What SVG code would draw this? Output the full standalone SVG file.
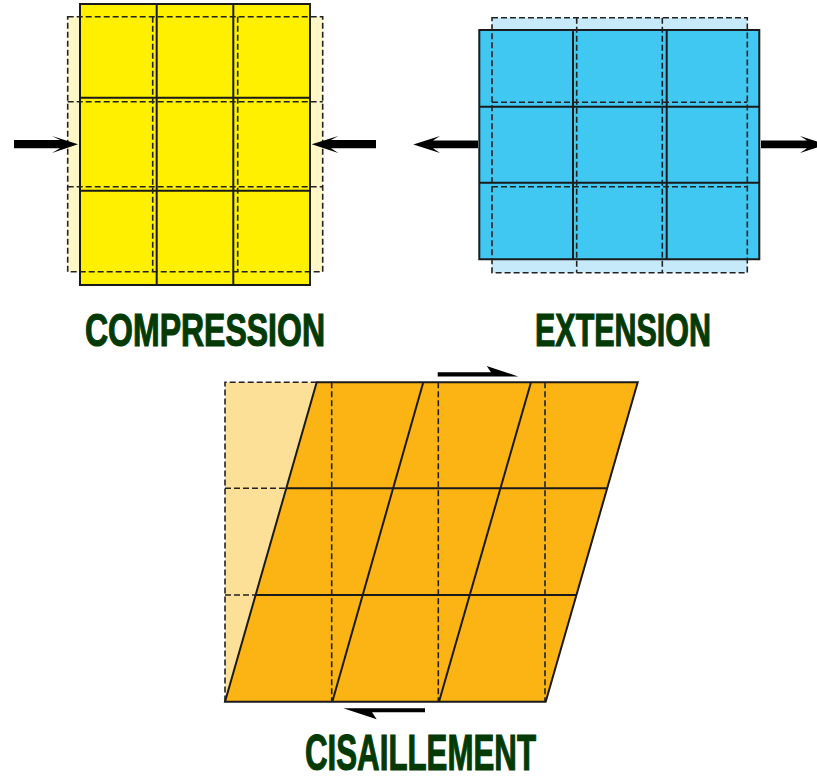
<svg xmlns="http://www.w3.org/2000/svg" width="817" height="781" viewBox="0 0 817 781">
<style>
.solid{fill:none;stroke:#1a1a1a;stroke-width:2}
.dash{fill:none;stroke:#222;stroke-width:1.6;stroke-dasharray:6 3}
.lbl{font-family:"Liberation Sans",Arial,sans-serif;font-weight:bold;fill:#033a05;stroke:#033a05;stroke-width:1.2}
.arrow{fill:#000}
</style>
<rect width="817" height="781" fill="#fff"/>
<g id="compression">
  <rect x="67.7" y="16.7" width="255" height="255" fill="#FFF8C6"/>
  <rect x="80" y="4" width="230" height="281" fill="#FFF000"/>
  <path class="solid" d="M80,4H310V285H80Z M156.7,4V285 M233.3,4V285 M80,97.7H310 M80,190.7H310"/>
  <path class="dash" d="M67.7,16.7H322.7V271.7H67.7Z M152.7,16.7V271.7 M237.7,16.7V271.7 M67.7,101.7H322.7 M67.7,186.7H322.7"/>
</g>
<g id="extension">
  <rect x="492" y="17.7" width="255.3" height="255" fill="#C6EAFA"/>
  <rect x="479.3" y="30" width="280" height="229.3" fill="#40C8F2"/>
  <path class="solid" d="M479.3,30H759.3V259.3H479.3Z M573,30V259.3 M666.7,30V259.3 M479.3,106.7H759.3 M479.3,182.7H759.3"/>
  <path class="dash" d="M492,17.7H747.3V272.7H492Z M576.7,17.7V272.7 M662.3,17.7V272.7 M492,102.3H747.3 M492,186.7H747.3"/>
</g>
<g id="cisaillement">
  <rect x="225" y="382.3" width="320.7" height="319.4" fill="#FDE097"/>
  <polygon points="316.7,382.3 637.7,382.3 545.7,701.7 225,701.7" fill="#FCB415"/>
  <path class="dash" d="M316.7,382.3H225V701.7 M331.7,382.3V701.7 M438.3,382.3V701.7 M545,382.3V701.7 M225,488.3H287.5 M225,595H256"/>
  <path class="solid" d="M316.7,382.3H637.7L545.7,701.7H225Z M423.3,382.3L332.3,701.7 M531,382.3L439,701.7 M286.2,488.3H607 M255.5,595H576.5"/>
</g>
<g id="connectors">
  <polygon class="arrow" points="14,140 60,140 52,136 78,144.2 52,153 60,148.3 14,148.3"/>
  <polygon class="arrow" points="376,140 331,140 338.3,136 311.7,144.2 338.3,153 331,148.3 376,148.3"/>
  <polygon class="arrow" points="478,140.5 433,140.5 440,136 413.3,144.5 440,153 433,148.3 478,148.3"/>
  <polygon class="arrow" points="761,140.5 807,140.5 800,136 826,144.5 800,153 807,148.3 761,148.3"/>
  <polygon class="arrow" points="437.7,372.3 491,372.3 486.7,366 518.3,376.5 437.7,376.5"/>
  <polygon class="arrow" points="425,708.3 343.3,708.3 376.7,719.3 372,712.3 425,712.3"/>
</g>
<text class="lbl" x="85" y="346" font-size="46" textLength="240" lengthAdjust="spacingAndGlyphs">COMPRESSION</text>
<text class="lbl" x="535" y="346" font-size="46" textLength="176" lengthAdjust="spacingAndGlyphs">EXTENSION</text>
<text class="lbl" x="305" y="770" font-size="50" textLength="231" lengthAdjust="spacingAndGlyphs">CISAILLEMENT</text>
</svg>
